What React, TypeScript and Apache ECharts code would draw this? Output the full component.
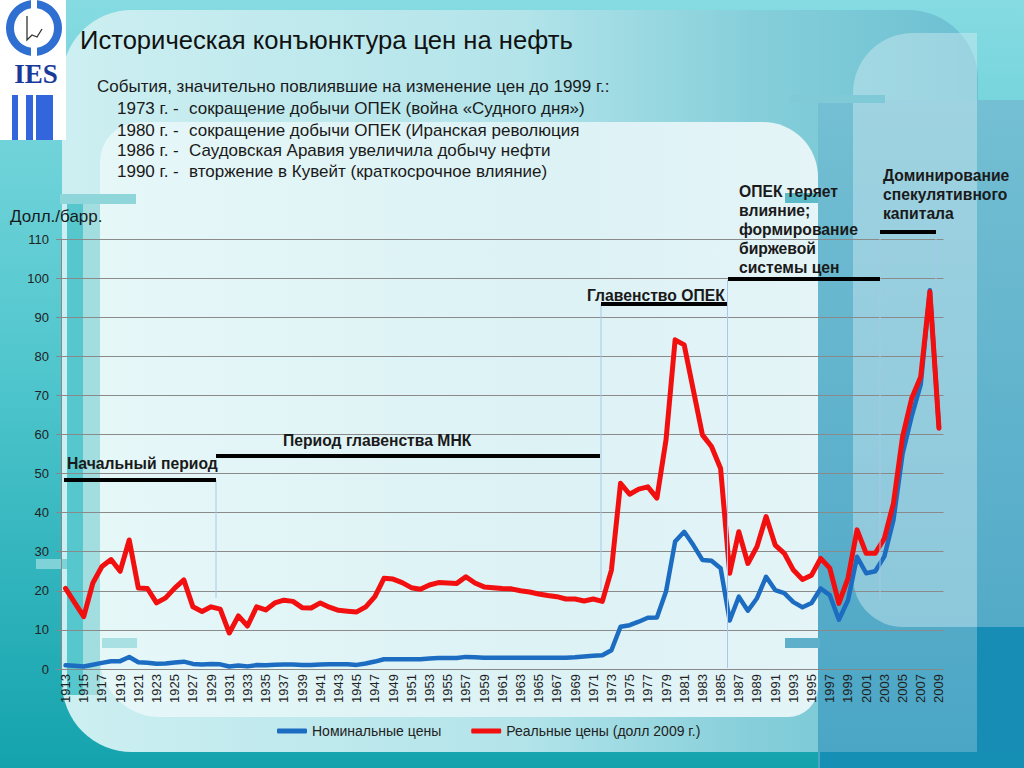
import React, { useEffect, useRef } from "react";
import * as echarts from "echarts";

const years: string[] = Array.from({ length: 97 }, (_, i) => String(1913 + i));

const nominalPrices: number[] = [
  0.95, 0.81, 0.64, 1.1, 1.56, 1.98, 2.01, 3.07, 1.73, 1.61,
  1.34, 1.43, 1.68, 1.88, 1.3, 1.17, 1.27, 1.19, 0.65, 0.87,
  0.67, 1.0, 0.97, 1.09, 1.18, 1.13, 1.02, 1.02, 1.14, 1.19,
  1.2, 1.21, 1.05, 1.4, 1.9, 2.5, 2.5, 2.5, 2.5, 2.5,
  2.7, 2.8, 2.8, 2.8, 3.1, 3.0, 2.9, 2.9, 2.9, 2.9,
  2.9, 2.9, 2.9, 2.9, 2.9, 2.9, 3.0, 3.2, 3.4, 3.5,
  4.8, 10.8, 11.2, 12.1, 13.1, 13.2, 19.8, 32.6, 35.1, 31.7,
  27.9, 27.7, 25.8, 12.4, 18.5, 14.9, 18.1, 23.6, 20.2, 19.4,
  17.1, 15.8, 16.9, 20.6, 18.9, 12.6, 17.6, 28.7, 24.5, 25.0,
  28.8, 38.1, 55.0, 64.6, 72.8, 96.9, 61.7,
];

const realPrices: number[] = [
  20.6, 17.0, 13.4, 22.0, 26.2, 28.0, 25.0, 33.0, 20.7, 20.6,
  16.9, 18.2, 20.7, 22.8, 15.9, 14.7, 15.9, 15.3, 9.2, 13.6,
  11.0, 15.9, 15.1, 16.9, 17.6, 17.3, 15.7, 15.6, 16.9, 15.8,
  15.0, 14.8, 14.6, 15.9, 18.5, 23.2, 23.0, 22.1, 20.8, 20.4,
  21.5, 22.1, 22.0, 21.9, 23.6, 22.0, 21.0, 20.8, 20.6, 20.5,
  20.0, 19.7, 19.2, 18.8, 18.5, 17.9, 17.9, 17.4, 17.9, 17.3,
  25.3, 47.5, 44.7, 46.0, 46.6, 43.7, 58.6, 84.2, 82.9, 71.4,
  59.9, 56.9, 51.3, 24.5, 35.1, 27.0, 31.3, 39.0, 31.7, 29.6,
  25.3, 22.9, 24.0, 28.3, 25.8, 16.8, 23.2, 35.6, 29.6, 29.6,
  33.4, 42.4, 59.4, 69.2, 74.8, 96.5, 61.6,
];

const seriesNames = ["Номинальные цены", "Реальные цены (долл 2009 г.)"];
const titleText = "Историческая конъюнктура цен на нефть";
const subtitleText = "События, значительно повлиявшие на изменение цен до 1999 г.:";
const eventYears = ["1973 г. -", "1980 г. -", "1986 г. -", "1990 г. -"];
const eventTexts = [
  "сокращение добычи ОПЕК (война «Судного дня»)",
  "сокращение добычи ОПЕК (Иранская революция",
  "Саудовская Аравия увеличила добычу нефти",
  "вторжение в Кувейт (краткосрочное влияние)",
];
const unitLabel = "Долл./барр.";

const FONT = '"Liberation Sans", Arial, sans-serif';

function lin(x: number, y: number, x2: number, y2: number, stops: [number, string][]) {
  return {
    type: "linear",
    x, y, x2, y2,
    colorStops: stops.map(([offset, color]) => ({ offset, color })),
  };
}

export default function App() {
  const ref = useRef<HTMLDivElement>(null);

  useEffect(() => {
    document.body.style.margin = "0";
    const chart = echarts.init(ref.current!, null, { renderer: "svg" });

    const bg: any[] = [
      { type: "rect", shape: { x: 0, y: 0, width: 1024, height: 768 },
        style: { fill: lin(0, 0, 0, 1, [[0, "#86dbe2"], [0.5, "#4ec5cc"], [1, "#14a3ad"]]) } },
      { type: "rect", shape: { x: 62, y: 10, width: 916, height: 742, r: 70 },
        style: { fill: lin(0, 0, 1, 0, [[0, "#cdeff1"], [0.5, "#b3e4ea"], [0.75, "#86cfda"], [1, "#6cc0d2"]]) } },
      { type: "rect", shape: { x: 818, y: 100, width: 206, height: 668 },
        style: { fill: lin(0, 0, 0, 1, [[0, "#74bfd3"], [1, "#4aa5c5"]]) } },
      { type: "rect", shape: { x: 853, y: 33, width: 124, height: 594, r: [60, 0, 0, 50] },
        style: { fill: "rgba(210,236,242,0.45)" } },
      { type: "rect", shape: { x: 977, y: 627, width: 47, height: 141 },
        style: { fill: "#178db5" } },
      { type: "rect", shape: { x: 820, y: 752, width: 204, height: 16 },
        style: { fill: "#168fb4" } },
      { type: "rect", shape: { x: 100, y: 122, width: 718, height: 595, r: [40, 55, 30, 60] },
        style: { fill: lin(0, 0, 1, 0, [[0, "#e6f7f8"], [0.6, "#dcf2f5"], [1, "#e4f4f7"]]) } },
      { type: "rect", shape: { x: 67, y: 195, width: 16, height: 500 }, style: { fill: "#55c7cd" } },
      { type: "rect", shape: { x: 83, y: 195, width: 17, height: 500 }, style: { fill: "#a2dde0" } },
      { type: "rect", shape: { x: 60, y: 194, width: 76, height: 10 }, style: { fill: "#8fd6db" } },
      { type: "rect", shape: { x: 36, y: 559, width: 31, height: 10 }, style: { fill: "#7fd2d7" } },
      { type: "rect", shape: { x: 102, y: 638, width: 35, height: 10 }, style: { fill: "#a9e0e3" } },
      { type: "rect", shape: { x: 785, y: 193, width: 33, height: 10 }, style: { fill: "#5cbac9" } },
      { type: "rect", shape: { x: 785, y: 638, width: 35, height: 10 }, style: { fill: "#5eafc9" } },
      { type: "rect", shape: { x: 790, y: 95, width: 95, height: 8 }, style: { fill: "#7fcad6" } },
      // logo
      { type: "rect", shape: { x: 0, y: 0, width: 66, height: 140 }, style: { fill: "#ffffff" } },
      { type: "ring", shape: { cx: 34, cy: 28, r: 28, r0: 20 }, style: { fill: "#2f6fd2" } },
      { type: "rect", shape: { x: 31, y: -1, width: 6, height: 10 }, style: { fill: "#ffffff" } },
      { type: "rect", shape: { x: 31, y: 47, width: 6, height: 10 }, style: { fill: "#ffffff" } },
      { type: "polyline", shape: { points: [[27, 16], [27, 40], [32, 35], [37, 37], [42, 29]] },
        style: { stroke: "#333", lineWidth: 1.3, fill: "none" } },
      { type: "text", style: { text: "IES", x: 36, y: 74, align: "center", verticalAlign: "middle",
        font: 'bold 27px "Liberation Serif", "DejaVu Serif", serif', fill: "#1a3a9a" } },
      { type: "rect", shape: { x: 12, y: 95, width: 6, height: 45 }, style: { fill: "#3366dd" } },
      { type: "rect", shape: { x: 26, y: 95, width: 7, height: 45 }, style: { fill: "#3366dd" } },
      { type: "rect", shape: { x: 36, y: 95, width: 17, height: 45 }, style: { fill: "#3366dd" } },
    ].map((e) => ({ ...e, z: -10, silent: true }));

    const txt = (text: string, x: number, y: number, size: number, bold = false, color = "#1a1a1a") => ({
      type: "text",
      style: { text, x, y, align: "left", verticalAlign: "middle", fill: color,
        font: `${bold ? "bold " : ""}${size}px ${FONT}` },
    });

    const hbar = (x1: number, x2: number, y: number) => ({
      type: "rect",
      shape: { x: x1, y: y - 2, width: x2 - x1, height: 4 },
      style: { fill: "#000000" },
    });
    const vline = (x: number, y1: number, y2: number) => ({
      type: "line",
      shape: { x1: x, y1, x2: x, y2 },
      style: { stroke: "#a6c8ea", lineWidth: 1 },
    });

    const fg: any[] = [
      txt(titleText, 80, 40, 25.6, false, "#111"),
      txt(subtitleText, 97, 86, 17),
      ...eventYears.map((t, i) => txt(t, 117, [108, 130, 150, 171][i], 17)),
      ...eventTexts.map((t, i) => txt(t, 189, [108, 130, 150, 171][i], 17)),
      txt(unitLabel, 10, 216, 17),
      vline(216, 480, 598),
      vline(601, 304, 590),
      vline(727.5, 280, 668),
      vline(880, 232, 600),
      vline(936, 232, 292),
      hbar(64, 216, 480),
      hbar(216, 600, 456),
      hbar(601, 727, 304),
      hbar(728, 880, 279),
      hbar(880, 936, 232),
      txt("Начальный период", 67, 463, 15.7, true),
      txt("Период главенства МНК", 283, 440, 15.7, true),
      txt("Главенство ОПЕК", 587, 295, 15.7, true),
      txt("ОПЕК теряет", 739, 191, 15.7, true),
      txt("влияние;", 739, 210, 15.7, true),
      txt("формирование", 739, 229, 15.7, true),
      txt("биржевой", 739, 248, 15.7, true),
      txt("системы цен", 739, 267, 15.7, true),
      txt("Доминирование", 883, 175, 15.7, true),
      txt("спекулятивного", 883, 194, 15.7, true),
      txt("капитала", 883, 213, 15.7, true),
    ].map((e) => ({ z: 50, silent: true, ...e }));

    chart.setOption({
      animation: false,
      textStyle: { fontFamily: FONT },
      graphic: [...bg, ...fg],
      grid: { left: 61, right: 80.5, top: 239, bottom: 99 },
      legend: {
        left: 277,
        top: 724,
        padding: 0,
        itemGap: 30,
        itemWidth: 30,
        itemHeight: 5,
        icon: "roundRect",
        textStyle: { fontSize: 14, color: "#222", fontFamily: FONT },
        data: seriesNames,
      },
      xAxis: {
        type: "category",
        data: years,
        boundaryGap: true,
        axisLine: { lineStyle: { color: "#888", width: 1 } },
        axisTick: { interval: 1, length: 5, lineStyle: { color: "#888" } },
        axisLabel: { interval: 1, rotate: 90, fontSize: 13, color: "#222", margin: 5, fontFamily: FONT },
        splitLine: { show: false },
      },
      yAxis: {
        type: "value",
        min: 0,
        max: 110,
        interval: 10,
        axisLine: { show: true, lineStyle: { color: "#888", width: 1 } },
        axisTick: { show: true, length: 5, lineStyle: { color: "#888" } },
        axisLabel: { fontSize: 13, color: "#222", margin: 12, fontFamily: FONT },
        splitLine: { lineStyle: { color: "#8a8a8a", width: 1 } },
      },
      series: [
        {
          name: seriesNames[0],
          type: "line",
          data: nominalPrices,
          showSymbol: false,
          symbol: "none",
          color: "#1c6dc1",
          lineStyle: { width: 4.5, color: "#1c6dc1", join: "round", cap: "round" },
          z: 3,
        },
        {
          name: seriesNames[1],
          type: "line",
          data: realPrices,
          showSymbol: false,
          symbol: "none",
          color: "#f20f0f",
          lineStyle: { width: 5, color: "#f20f0f", join: "round", cap: "round" },
          z: 4,
        },
      ],
    });

    return () => chart.dispose();
  }, []);

  return <div ref={ref} style={{ width: 1024, height: 768 }} />;
}
